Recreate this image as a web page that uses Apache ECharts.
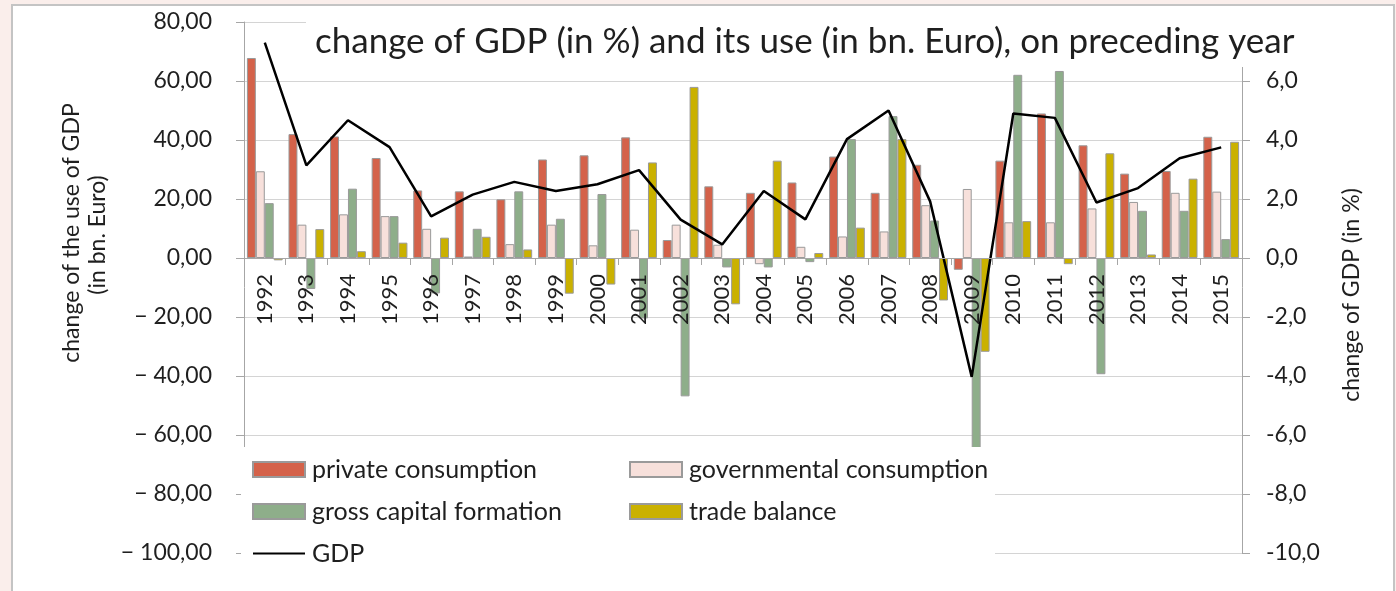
<!DOCTYPE html>
<html>
<head>
<meta charset="utf-8">
<script src="https://cdn.jsdelivr.net/npm/echarts@6/dist/echarts.min.js"></script>
<style>
  html, body { margin: 0; padding: 0; width: 1396px; height: 591px; overflow: hidden; background: #FAEEEB; }
  #frame { position: absolute; left: 11px; top: 4px; width: 1380px; height: 620px; background: #fff; border: 2px solid #C4C4C4; }
  #chart { position: absolute; left: 0; top: 0; width: 1396px; height: 591px; }
</style>
</head>
<body>
<div id="frame"></div>
<div id="chart"></div>
<script>
const categories = ['1992','1993','1994','1995','1996','1997','1998','1999','2000','2001','2002','2003',
                    '2004','2005','2006','2007','2008','2009','2010','2011','2012','2013','2014','2015'];
const privateConsumption = [67.8, 42.0, 41.2, 33.9, 22.9, 22.6, 19.9, 33.4, 34.8, 40.9, 6.1, 24.3,
                            22.1, 25.6, 34.4, 22.1, 31.6, -4.0, 33.0, 49.0, 38.2, 28.6, 29.5, 41.1];
const governmentalConsumption = [29.4, 11.3, 14.8, 14.2, 9.9, 0.5, 4.7, 11.3, 4.3, 9.6, 11.3, 4.5,
                                 -2.1, 3.8, 7.3, 9.0, 17.9, 23.4, 12.1, 12.1, 16.8, 19.0, 22.1, 22.5];
const grossCapitalFormation = [18.6, -10.5, 23.5, 14.2, -12.0, 9.9, 22.6, 13.3, 21.7, -20.5, -46.9, -3.2,
                               -3.2, -1.4, 40.3, 48.1, 12.7, -64.6, 62.1, 63.4, -39.4, 16.0, 16.0, 6.4];
const tradeBalance = [-0.8, 9.8, 2.3, 5.2, 6.9, 7.2, 2.9, -12.1, -9.0, 32.4, 58.0, -15.7,
                      33.0, 1.7, 10.3, 40.3, -14.4, -31.8, 12.5, -2.1, 35.5, 1.2, 26.9, 39.4];
const gdpChange = [7.3, 3.14, 4.67, 3.76, 1.41, 2.15, 2.58, 2.27, 2.50, 2.98, 1.30, 0.46,
                   2.27, 1.31, 4.03, 5.0, 1.92, -4.03, 4.9, 4.75, 1.88, 2.37, 3.38, 3.75];

const FONT = 'Lato, "Open Sans", sans-serif';
const TXT = '#1f1f1f';
const colors = { priv: '#D4624A', gov: '#F7E0DB', gross: '#8EAE8A', trade: '#CAB100' };
const barBorder = { borderColor: '#9A9A9A', borderWidth: 1 };

const W = 1396, H = 591;
const GRID = { left: 244, right: 154, top: 22, bottom: 38 };
const LEFT_MIN = -100, LEFT_MAX = 80;
// place the category axis at the zero line of the left value axis
const gridH = H - GRID.top - GRID.bottom;
const xAxisOffset = -gridH * (0 - LEFT_MIN) / (LEFT_MAX - LEFT_MIN);

const chart = echarts.init(document.getElementById('chart'), null, { renderer: 'canvas' });

function leftFmt(v) {
  const s = Math.abs(v).toFixed(2).replace('.', ',');
  return v < 0 ? '\u2212 ' + s : s;
}
function rightFmt(v) {
  return v.toFixed(1).replace('.', ',');
}

const option = {
  backgroundColor: 'transparent',
  animation: false,
  textStyle: { fontFamily: FONT, color: TXT },
  title: {
    text: 'change of GDP (in %) and its use (in bn. Euro), on preceding year',
    left: 306, top: 17,
    padding: [5, 10, 5, 9],
    backgroundColor: '#ffffff',
    z: 20,
    textStyle: { fontFamily: FONT, fontSize: 35, fontWeight: 'normal', color: TXT, lineHeight: 40 }
  },
  grid: Object.assign({ containLabel: false, outerBoundsMode: 'none' }, GRID),
  xAxis: {
    type: 'category',
    data: categories,
    z: 10,
    offset: xAxisOffset,
    axisLine: { onZero: false, lineStyle: { color: '#A6A6A6', width: 1 } },
    axisTick: { show: true, length: 7, lineStyle: { color: '#A6A6A6' } },
    axisLabel: { rotate: 90, margin: 16, fontFamily: FONT, fontSize: 22, color: TXT },
    splitLine: { show: false }
  },
  yAxis: [
    {
      type: 'value', min: LEFT_MIN, max: LEFT_MAX, interval: 20, position: 'left',
      axisLine: { show: true, lineStyle: { color: '#A6A6A6' } },
      axisTick: { show: true, inside: false, length: 8, lineStyle: { color: '#A6A6A6' } },
      axisLabel: { formatter: leftFmt, margin: 32, fontFamily: FONT, fontSize: 23, color: TXT },
      splitLine: { show: true, lineStyle: { color: '#D4D4D4', width: 1 } }
    },
    {
      type: 'value', min: -10, max: 8, interval: 2, position: 'right',
      axisLine: { show: true, lineStyle: { color: '#A6A6A6' } },
      axisTick: { show: true, inside: false, length: 8, lineStyle: { color: '#A6A6A6' } },
      axisLabel: { formatter: rightFmt, margin: 24, showMaxLabel: false, fontFamily: FONT, fontSize: 23, color: TXT },
      splitLine: { show: false }
    }
  ],
  legend: [
    {
      left: 252, top: 457, orient: 'vertical', itemGap: 17, itemWidth: 52, itemHeight: 15, z: 40,
      padding: 0,
      textStyle: { fontFamily: FONT, fontSize: 25, color: TXT, padding: [0, 0, 0, 2] },
      data: [
        { name: 'private consumption', icon: 'rect' },
        { name: 'gross capital formation', icon: 'rect' },
        { name: 'GDP', itemStyle: { color: 'rgba(0,0,0,0)', borderColor: 'rgba(0,0,0,0)', borderWidth: 0 } }
      ]
    },
    {
      left: 629, top: 457, orient: 'vertical', itemGap: 17, itemWidth: 52, itemHeight: 15, z: 40,
      padding: 0,
      textStyle: { fontFamily: FONT, fontSize: 25, color: TXT, padding: [0, 0, 0, 2] },
      data: [
        { name: 'governmental consumption', icon: 'rect' },
        { name: 'trade balance', icon: 'rect' }
      ]
    }
  ],
  graphic: [
    {
      type: 'rect', z: 30, silent: true,
      shape: { x: 241, y: 447, width: 754, height: 128 },
      style: { fill: '#ffffff' }
    },
    {
      type: 'text', z: 30, x: 72, y: 233, rotation: Math.PI / 2,
      style: { text: 'change of the use of GDP', font: '23px ' + FONT, fill: TXT, textAlign: 'center', textVerticalAlign: 'middle' }
    },
    {
      type: 'text', z: 30, x: 98, y: 235, rotation: Math.PI / 2,
      style: { text: '(in bn. Euro)', font: '23px ' + FONT, fill: TXT, textAlign: 'center', textVerticalAlign: 'middle' }
    },
    {
      type: 'text', z: 30, x: 1352, y: 295, rotation: Math.PI / 2,
      style: { text: 'change of GDP (in %)', font: '23px ' + FONT, fill: TXT, textAlign: 'center', textVerticalAlign: 'middle' }
    }
  ],
  series: [
    { name: 'private consumption', type: 'bar', yAxisIndex: 0, data: privateConsumption,
      barGap: '0%', barCategoryGap: '14%', itemStyle: Object.assign({ color: colors.priv }, barBorder) },
    { name: 'governmental consumption', type: 'bar', yAxisIndex: 0, data: governmentalConsumption,
      barGap: '0%', barCategoryGap: '14%', itemStyle: Object.assign({ color: colors.gov }, barBorder) },
    { name: 'gross capital formation', type: 'bar', yAxisIndex: 0, data: grossCapitalFormation,
      barGap: '0%', barCategoryGap: '14%', itemStyle: Object.assign({ color: colors.gross }, barBorder) },
    { name: 'trade balance', type: 'bar', yAxisIndex: 0, data: tradeBalance,
      barGap: '0%', barCategoryGap: '14%', itemStyle: Object.assign({ color: colors.trade }, barBorder) },
    { name: 'GDP', type: 'line', yAxisIndex: 1, data: gdpChange, z: 5,
      symbol: 'none', showSymbol: false, smooth: false,
      lineStyle: { color: '#000000', width: 2.5 }, itemStyle: { color: '#000000' } }
  ]
};
chart.setOption(option);
</script>
</body>
</html>
